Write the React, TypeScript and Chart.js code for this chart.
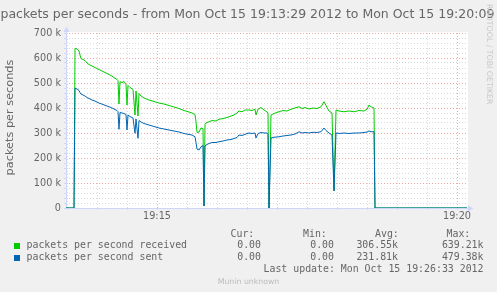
import React, { useEffect, useRef } from 'react';
import { Chart, registerables } from 'chart.js';

Chart.register(...registerables);

// Seconds after Mon Oct 15 19:13:29 2012
const times = [
  0, 8, 9, 11, 13, 14, 15, 17, 19, 21, 23, 26, 29, 33, 37, 41, 45, 48, 51, 52,
  53, 54, 56, 58, 60, 61, 62, 64, 67, 69, 70, 72, 73, 75, 78, 83, 88, 93, 98, 103,
  108, 113, 118, 123, 126, 129, 130, 131, 133, 135, 137, 138, 139, 140, 143, 146, 150, 153, 157, 161,
  165, 168, 171, 173, 176, 179, 183, 186, 189, 190, 192, 195, 198, 201, 202, 203, 205, 208, 213, 217,
  221, 225, 229, 233, 236, 239, 243, 247, 251, 255, 258, 260, 263, 266, 268, 270, 273, 278, 283, 288,
  293, 298, 301, 303, 305, 308, 309, 401,
];

// packets per second received
const received = [
  0, 0, 639210, 636000, 628000, 612000, 598000, 594000, 590000, 580000, 574000, 568000, 562000, 554000, 546000, 538000, 530000, 522000, 514000, 510000,
  416000, 505000, 502000, 506000, 494000, 412000, 490000, 482000, 474000, 372000, 468000, 368000, 458000, 448000, 440000, 432000, 426000, 420000, 416000, 410000,
  404000, 398000, 390000, 384000, 380000, 374000, 345000, 302000, 304000, 320000, 318000, 8000, 335000, 340000, 345000, 350000, 348000, 355000, 358000, 362000,
  368000, 372000, 380000, 388000, 385000, 392000, 392000, 390000, 395000, 372000, 395000, 402000, 392000, 384000, 380000, 0, 372000, 378000, 385000, 390000,
  388000, 395000, 400000, 405000, 398000, 402000, 396000, 400000, 398000, 405000, 425000, 410000, 388000, 380000, 70000, 392000, 388000, 385000, 388000, 385000,
  390000, 388000, 395000, 412000, 405000, 400000, 0, 0,
];

// packets per second sent
const sent = [
  0, 0, 479380, 476000, 470000, 462000, 456000, 452000, 448000, 442000, 438000, 432000, 428000, 420000, 414000, 408000, 402000, 396000, 390000, 386000,
  315000, 382000, 380000, 378000, 374000, 312000, 372000, 366000, 360000, 299000, 356000, 279000, 350000, 344000, 338000, 332000, 326000, 320000, 316000, 312000,
  308000, 304000, 298000, 294000, 292000, 285000, 262000, 236000, 232000, 245000, 250000, 8000, 248000, 252000, 258000, 262000, 262000, 265000, 268000, 272000,
  274000, 278000, 282000, 292000, 290000, 295000, 300000, 298000, 300000, 280000, 298000, 302000, 300000, 300000, 295000, 0, 280000, 283000, 285000, 288000,
  290000, 292000, 296000, 305000, 300000, 302000, 300000, 303000, 302000, 305000, 320000, 310000, 300000, 292000, 68000, 300000, 298000, 300000, 298000, 300000,
  300000, 302000, 304000, 308000, 305000, 305000, 0, 0,
];

const yMajorValues = [0, 100000, 200000, 300000, 400000, 500000, 600000, 700000];
const yTickLabels = ['0', '100 k', '200 k', '300 k', '400 k', '500 k', '600 k', '700 k'];
const xMajorTimes = [91, 391];
const xTickLabels = ['19:15', '19:20'];

const seriesNames = ['packets per second received', 'packets per second sent'];
const curValues = ['0.00', '0.00'];
const minValues = ['0.00', '0.00'];
const avgValues = ['306.55k', '231.81k'];
const maxValues = ['639.21k', '479.38k'];

const TITLE = 'packets per seconds - from Mon Oct 15 19:13:29 2012 to Mon Oct 15 19:20:09';
const Y_TITLE = 'packets per seconds';
const LAST_UPDATE = 'Last update: Mon Oct 15 19:26:33 2012';
const WATERMARK = 'RRDTOOL / TOBI OETIKER';
const FOOTER = 'Munin unknown';

const GREEN = '#00CC00';
const BLUE = '#0066B3';
const AXIS = '#CFD6F8';
const MINOR = 'rgba(170,170,170,0.45)';
const MAJOR = 'rgba(224,80,80,0.5)';
const FONT = "'DejaVu Sans', sans-serif";
const MONO = "'DejaVu Sans Mono', monospace";
const TEXT = '#666666';

const xGrid: number[] = [];
for (let t = 1; t <= 401; t += 30) xGrid.push(t);
const yGrid: number[] = [];
for (let v = 0; v <= 700000; v += 20000) yGrid.push(v);

const decor = {
  id: 'decor',
  beforeDraw(chart: any) {
    const { ctx, chartArea: a, width, height } = chart;
    ctx.save();
    ctx.fillStyle = '#F0F0F0';
    ctx.fillRect(0, 0, width, height);
    ctx.fillStyle = '#FFFFFF';
    ctx.fillRect(a.left, a.top - 1, a.right - a.left + 1, a.bottom - a.top + 1);
    ctx.restore();
  },
  beforeDatasetsDraw(chart: any) {
    const { ctx, chartArea: a } = chart;
    ctx.save();
    ctx.strokeStyle = AXIS;
    ctx.fillStyle = AXIS;
    ctx.lineWidth = 1;
    ctx.beginPath();
    ctx.moveTo(a.left + 0.5, a.bottom + 1);
    ctx.lineTo(a.left + 0.5, a.top - 3);
    ctx.moveTo(a.left, a.bottom + 0.5);
    ctx.lineTo(a.right + 3, a.bottom + 0.5);
    ctx.stroke();
    ctx.beginPath();
    ctx.moveTo(a.right + 1, a.bottom - 2.5);
    ctx.lineTo(a.right + 1, a.bottom + 3.5);
    ctx.lineTo(a.right + 6.5, a.bottom + 0.5);
    ctx.closePath();
    ctx.fill();
    ctx.beginPath();
    ctx.moveTo(a.left - 2.5, a.top - 1);
    ctx.lineTo(a.left + 3.5, a.top - 1);
    ctx.lineTo(a.left + 0.5, a.top - 6.5);
    ctx.closePath();
    ctx.fill();
    ctx.restore();
  },
  afterDraw(chart: any) {
    const { ctx, chartArea: a, width } = chart;
    ctx.save();
    ctx.fillStyle = TEXT;
    ctx.textBaseline = 'alphabetic';
    // title
    ctx.font = `12.5px ${FONT}`;
    ctx.textAlign = 'left';
    ctx.fillText(TITLE, 0.5, 17.5);
    // y axis title
    ctx.save();
    ctx.font = `11.3px ${FONT}`;
    ctx.translate(12.5, (a.top + a.bottom) / 2 - 3);
    ctx.rotate(-Math.PI / 2);
    ctx.textAlign = 'center';
    ctx.fillText(Y_TITLE, 0, 0);
    ctx.restore();
    // watermark on right
    ctx.save();
    ctx.fillStyle = '#C8C8C8';
    ctx.font = `7.8px ${FONT}`;
    ctx.translate(486.5, 4);
    ctx.rotate(Math.PI / 2);
    ctx.textAlign = 'left';
    ctx.fillText(WATERMARK, 0, 0);
    ctx.restore();
    // legend
    ctx.font = `9.9px ${MONO}`;
    const headerY = 236.8;
    const rowH = 11.6;
    ctx.textAlign = 'left';
    ctx.fillText('Cur:', 230.5, headerY);
    ctx.fillText('Min:', 303, headerY);
    ctx.fillText('Avg:', 375, headerY);
    ctx.fillText('Max:', 446.5, headerY);
    const colors = [GREEN, BLUE];
    for (let i = 0; i < 2; i++) {
      const y = headerY + rowH * (i + 1);
      ctx.fillStyle = colors[i];
      ctx.fillRect(14, 243 + i * 12, 6, 6);
      ctx.fillStyle = TEXT;
      ctx.textAlign = 'left';
      ctx.fillText(seriesNames[i], 26.5, y);
      ctx.textAlign = 'right';
      ctx.fillText(curValues[i], 261, y);
      ctx.fillText(minValues[i], 334, y);
      ctx.fillText(avgValues[i], 398, y);
      ctx.fillText(maxValues[i], 483.5, y);
    }
    ctx.textAlign = 'right';
    ctx.fillText(LAST_UPDATE, 483.5, headerY + rowH * 3);
    // footer
    ctx.fillStyle = '#BBBBBB';
    ctx.font = `7.8px ${FONT}`;
    ctx.textAlign = 'center';
    ctx.fillText(FOOTER, width / 2, 283.5);
    ctx.restore();
  },
};

export default function App() {
  const ref = useRef<HTMLCanvasElement | null>(null);
  useEffect(() => {
    if (!ref.current) return;
    const chart = new Chart(ref.current, {
      type: 'line',
      data: {
        datasets: [
          {
            label: seriesNames[0],
            data: times.map((t, i) => ({ x: t, y: received[i] })),
            borderColor: GREEN,
            borderWidth: 1,
            pointRadius: 0,
            tension: 0,
            fill: false,
            order: 2,
          },
          {
            label: seriesNames[1],
            data: times.map((t, i) => ({ x: t, y: sent[i] })),
            borderColor: BLUE,
            borderWidth: 1,
            pointRadius: 0,
            tension: 0,
            fill: false,
            order: 1,
          },
        ],
      },
      options: {
        responsive: false,
        animation: false,
        events: [],
        layout: { padding: { left: 0, top: 33, right: 30, bottom: 0 } },
        plugins: {
          legend: { display: false },
          title: { display: false },
          tooltip: { enabled: false },
        },
        scales: {
          x: {
            type: 'linear',
            min: 0,
            max: 401,
            afterBuildTicks: (s: any) => {
              s.ticks = xGrid.map((v) => ({ value: v }));
            },
            afterFit: (s: any) => {
              s.height = 84;
            },
            grid: {
              color: (c: any) => (xMajorTimes.includes(c.tick?.value) ? MAJOR : MINOR),
              lineWidth: 1,
              drawTicks: true,
              tickLength: 2,
              tickColor: AXIS,
            },
            border: { display: false, dash: [1, 2] },
            ticks: {
              autoSkip: false,
              maxRotation: 0,
              padding: 1,
              color: TEXT,
              font: { family: FONT, size: 9.7 },
              callback: (v: any) => {
                const i = xMajorTimes.indexOf(v);
                return i >= 0 ? xTickLabels[i] : '';
              },
            },
          },
          y: {
            type: 'linear',
            min: 0,
            max: 700000,
            afterBuildTicks: (s: any) => {
              s.ticks = yGrid.map((v) => ({ value: v }));
            },
            afterFit: (s: any) => {
              s.width = 66;
            },
            grid: {
              color: (c: any) => (yMajorValues.includes(c.tick?.value) ? MAJOR : MINOR),
              lineWidth: 1,
              drawTicks: true,
              tickLength: 2,
              tickColor: AXIS,
            },
            border: { display: false, dash: [1, 2] },
            ticks: {
              autoSkip: false,
              padding: 3,
              color: TEXT,
              font: { family: FONT, size: 9.7 },
              callback: (v: any) => {
                const i = yMajorValues.indexOf(v);
                return i >= 0 ? yTickLabels[i] : '';
              },
            },
          },
        },
      },
      plugins: [decor],
    } as any);
    return () => chart.destroy();
  }, []);
  return (
    <div style={{ position: 'absolute', left: 0, top: 0, width: 497, height: 292 }}>
      <canvas ref={ref} width={497} height={292} style={{ display: 'block' }} />
    </div>
  );
}
